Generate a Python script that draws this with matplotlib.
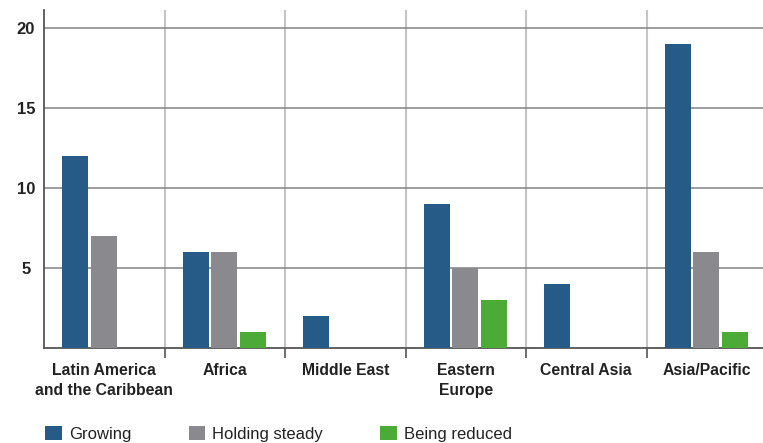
import numpy as np
import matplotlib.pyplot as plt
from matplotlib.patches import Patch

plt.rcParams['font.family'] = ['Liberation Sans', 'DejaVu Sans']

regions = ['Latin America\nand the Caribbean', 'Africa', 'Middle East',
           'Eastern\nEurope', 'Central Asia', 'Asia/Pacific']
series = ['Growing', 'Holding steady', 'Being reduced']
growing = [12, 6, 2, 9, 4, 19]
steady = [7, 6, 0, 5, 0, 6]
reduced = [0, 1, 0, 3, 0, 1]
yticks = [5, 10, 15, 20]

colors = ['#265a87', '#8a898e', '#4bab36']

fig = plt.figure(figsize=(7.63, 4.43), dpi=100)
ax = fig.add_axes([44 / 763, 1 - 348 / 443, 723 / 763, 338 / 443])

x = np.arange(len(regions))
offsets = [0.26, 0.495, 0.735]
w = 0.216
for vals, off, c in zip([growing, steady, reduced], offsets, colors):
    ax.bar(x + off, vals, width=w, color=c, zorder=3)

ax.set_xlim(0, 6)
ax.set_ylim(0, 338 / 16)

ax.set_yticks(yticks)
ax.set_yticklabels([str(t) for t in yticks], fontsize=12, fontweight='bold',
                   color='#222222', ha='center')
ax.tick_params(axis='y', length=0, pad=13)
ax.grid(axis='y', color='#8c8c8c', linewidth=1.2, zorder=1)

ax.set_xticks(x + 0.5)
ax.set_xticklabels(regions, fontsize=11.3, fontweight='bold', color='#222222', linespacing=1.4)
ax.tick_params(axis='x', which='major', length=0, pad=11)
ax.set_xticks(np.arange(1, 6), minor=True)
ax.tick_params(axis='x', which='minor', length=7, width=1.2, color='#555555')
for b in range(1, 6):
    ax.axvline(b, color='#c4c4c4', linewidth=1.5, zorder=1)

for s in ['top', 'right']:
    ax.spines[s].set_visible(False)
ax.spines['left'].set_color('#555555')
ax.spines['left'].set_linewidth(1.3)
ax.spines['bottom'].set_color('#555555')
ax.spines['bottom'].set_linewidth(1.3)

handles = [Patch(facecolor=c, edgecolor='none') for c in colors]
fig.legend(handles, series, loc='lower left', bbox_to_anchor=(30 / 763, -0.031),
           ncol=3, frameon=False, fontsize=12, handlelength=1.0, handleheight=1.0,
           handletextpad=0.42, columnspacing=3.45, labelcolor='#222222')

fig.savefig('out.png', dpi=100)
